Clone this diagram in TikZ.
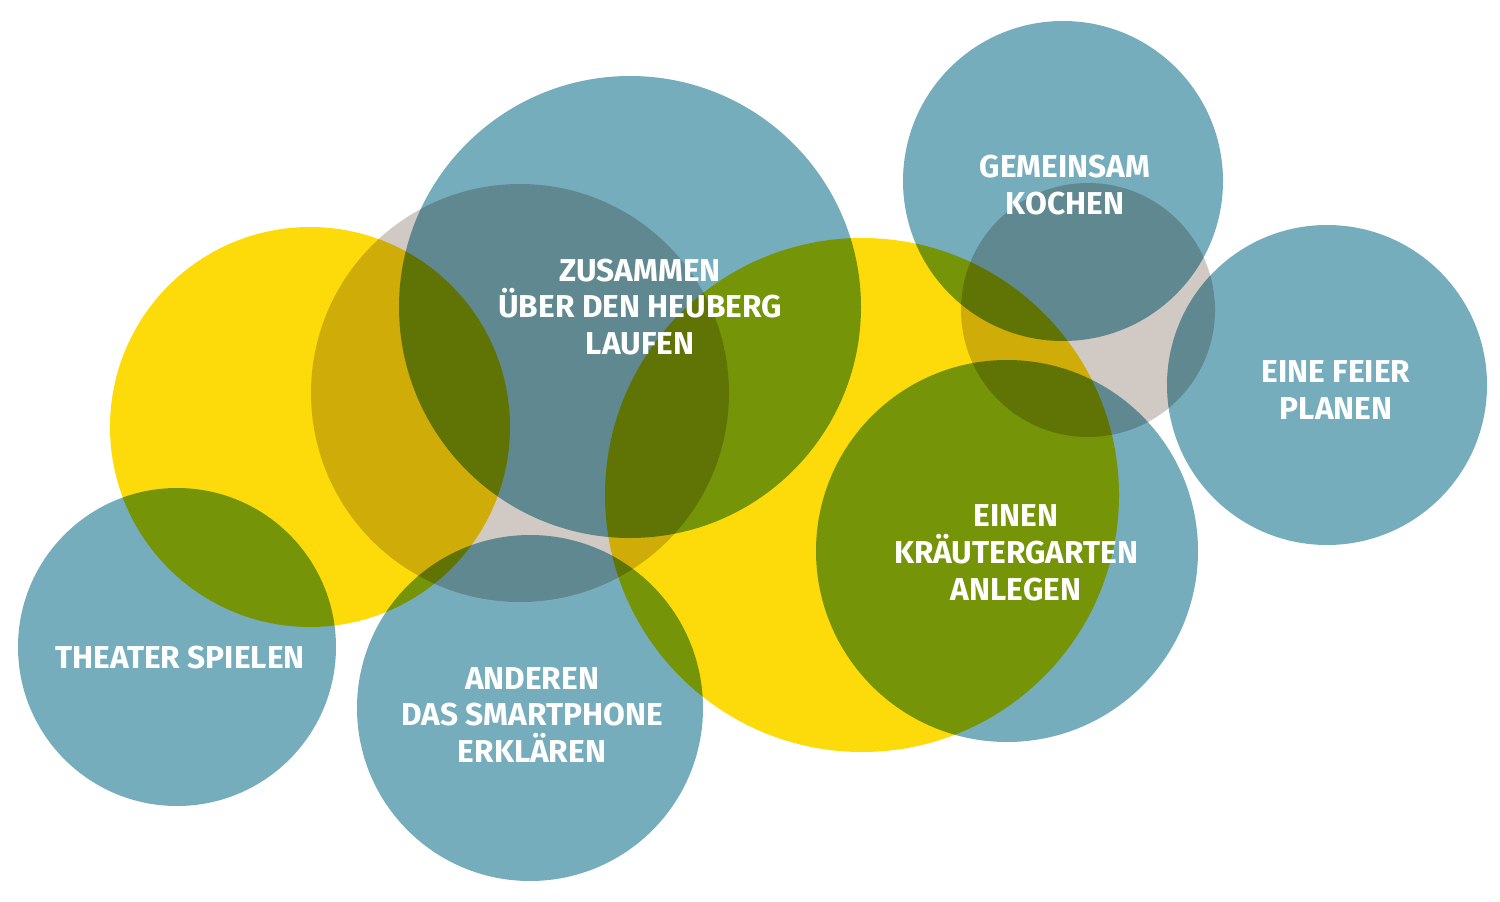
\documentclass[tikz,border=0pt]{standalone}
\usepackage{fontspec}
\setmainfont{Fira Sans}
\definecolor{bluec}{HTML}{76ADBD}
\definecolor{yellowc}{HTML}{FDDB0A}
\definecolor{greyc}{HTML}{D1C9C3}
\tikzset{
  bubble/.style={circle,inner sep=0pt,minimum size=#1},
  label/.style={text=white,align=center,font=\bfseries\fontsize{18}{21}\selectfont}
}
\begin{document}
\begin{tikzpicture}[x=0.02cm,y=-0.02cm]
	\useasboundingbox (0,0) rectangle (1500,902);
	\begin{scope}[blend group=multiply]
		% grey and yellow ones behind
		\node[bubble=418*0.02cm,fill=greyc] (g1) at (520,393) {};
		\node[bubble=254*0.02cm,fill=greyc] (g2) at (1088,310) {};
		\node[bubble=400*0.02cm,fill=yellowc] (y1) at (310,427) {};
		\node[bubble=514*0.02cm,fill=yellowc] (y2) at (862,495) {};
		% blue ones
		\node[bubble=462*0.02cm,fill=bluec] (heuberg) at (630,307) {};
		\node[bubble=320*0.02cm,fill=bluec] (kochen) at (1063,181) {};
		\node[bubble=320*0.02cm,fill=bluec] (feier) at (1327,385) {};
		\node[bubble=382*0.02cm,fill=bluec] (garten) at (1007,551) {};
		\node[bubble=318*0.02cm,fill=bluec] (theater) at (177,647) {};
		\node[bubble=346*0.02cm,fill=bluec] (phone) at (530,708) {};
	\end{scope}
	\node[label] (t1) at (640,307) {ZUSAMMEN\\ÜBER DEN HEUBERG\\LAUFEN};
	\node[label] (t2) at (1065,185) {GEMEINSAM\\KOCHEN};
	\node[label] (t3) at (1336,390) {EINE FEIER\\PLANEN};
	\node[label] (t4) at (1016,553) {EINEN\\KRÄUTERGARTEN\\ANLEGEN};
	\node[label] (t5) at (180,658) {THEATER SPIELEN};
	\node[label] (t6) at (532,715) {ANDEREN\\DAS SMARTPHONE\\ERKLÄREN};
\end{tikzpicture}
\end{document}
